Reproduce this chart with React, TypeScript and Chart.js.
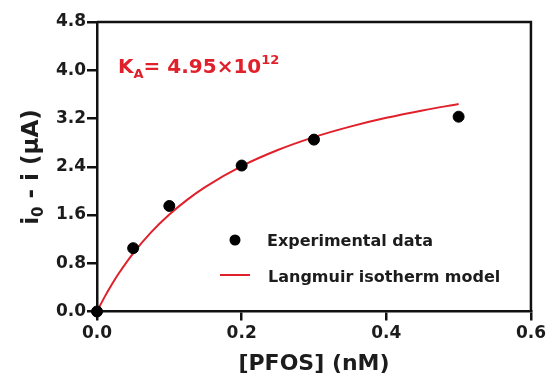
import React, { useEffect, useRef } from "react";
import { Chart, registerables } from "chart.js";

Chart.register(...registerables);

// Experimental data
const expX = [0, 0.05, 0.1, 0.2, 0.3, 0.5];
const expY = [0, 1.05, 1.75, 2.42, 2.85, 3.23];

// Langmuir isotherm model curve
const fitX = [0, 0.01, 0.02, 0.03, 0.05, 0.075, 0.1, 0.125, 0.15, 0.2, 0.25, 0.3, 0.35, 0.4, 0.45, 0.5];
const fitY = [0, 0.23, 0.44, 0.63, 0.965, 1.316, 1.608, 1.855, 2.066, 2.41, 2.677, 2.891, 3.065, 3.211, 3.334, 3.44];

const xTicks = [0, 0.2, 0.4, 0.6];
const yTicks = [0, 0.8, 1.6, 2.4, 3.2, 4.0, 4.8];

const FONT = "'DejaVu Sans', sans-serif";
const TXT = "#1c1c1c";
const RED = "#e0202a";

type Seg = { t: string; size: number; dy: number };

function segWidth(ctx: CanvasRenderingContext2D, segs: Seg[]) {
  let w = 0;
  for (const s of segs) {
    ctx.font = `bold ${s.size}px ${FONT}`;
    w += ctx.measureText(s.t).width;
  }
  return w;
}
function drawSegs(ctx: CanvasRenderingContext2D, segs: Seg[], x: number, y: number) {
  let cx = x;
  for (const s of segs) {
    ctx.font = `bold ${s.size}px ${FONT}`;
    ctx.fillText(s.t, cx, y + s.dy);
    cx += ctx.measureText(s.t).width;
  }
}

const decor = {
  id: "decor",
  afterDraw(chart: any) {
    const ctx: CanvasRenderingContext2D = chart.ctx;
    const a = chart.chartArea;
    ctx.save();
    // frame top & right
    ctx.strokeStyle = "#111";
    ctx.lineWidth = 2.5;
    ctx.beginPath();
    ctx.moveTo(a.left, a.top);
    ctx.lineTo(a.right, a.top);
    ctx.lineTo(a.right, a.bottom);
    ctx.stroke();

    ctx.textBaseline = "alphabetic";
    ctx.textAlign = "left";
    // x title
    ctx.fillStyle = TXT;
    ctx.font = `bold 22px ${FONT}`;
    ctx.textAlign = "center";
    ctx.fillText("[PFOS] (nM)", 314, 370);

    // y title rotated
    ctx.textAlign = "left";
    const ySegs: Seg[] = [
      { t: "i", size: 23, dy: 0 },
      { t: "0", size: 15, dy: 5 },
      { t: " - i (μA)", size: 23, dy: 0 },
    ];
    const w = segWidth(ctx, ySegs);
    ctx.save();
    ctx.translate(38, 167);
    ctx.rotate(-Math.PI / 2);
    drawSegs(ctx, ySegs, -w / 2, 0);
    ctx.restore();

    // annotation
    ctx.fillStyle = RED;
    drawSegs(
      ctx,
      [
        { t: "K", size: 20, dy: 0 },
        { t: "A", size: 13, dy: 5 },
        { t: "= 4.95×10", size: 20, dy: 0 },
        { t: "12", size: 13, dy: -9 },
      ],
      118,
      73
    );

    // legend
    ctx.fillStyle = "#000";
    ctx.beginPath();
    ctx.arc(235, 240, 5.5, 0, Math.PI * 2);
    ctx.fill();
    ctx.strokeStyle = RED;
    ctx.lineWidth = 2;
    ctx.beginPath();
    ctx.moveTo(220, 275);
    ctx.lineTo(250, 275);
    ctx.stroke();
    ctx.fillStyle = TXT;
    ctx.font = `bold 16px ${FONT}`;
    ctx.fillText("Experimental data", 267, 246);
    ctx.fillText("Langmuir isotherm model", 268, 282);
    ctx.restore();
  },
};

export default function App() {
  const ref = useRef<HTMLCanvasElement | null>(null);
  useEffect(() => {
    document.body.style.margin = "0";
    const chart = new Chart(ref.current!, {
      type: "scatter",
      data: {
        datasets: [
          {
            label: "Langmuir isotherm model",
            data: fitX.map((x, i) => ({ x, y: fitY[i] })),
            showLine: true,
            borderColor: RED,
            borderWidth: 2,
            pointRadius: 0,
            cubicInterpolationMode: "monotone",
            clip: false,
            order: 2,
          } as any,
          {
            label: "Experimental data",
            data: expX.map((x, i) => ({ x, y: expY[i] })),
            backgroundColor: "#000",
            borderColor: "#000",
            pointRadius: 5.5,
            showLine: false,
            clip: false,
            order: 1,
          } as any,
        ],
      },
      options: {
        animation: false,
        responsive: true,
        maintainAspectRatio: false,
        layout: { padding: { top: 22, right: 18, left: 0, bottom: 0 } },
        plugins: { legend: { display: false }, tooltip: { enabled: false } },
        scales: {
          x: {
            type: "linear",
            min: 0,
            max: 0.6,
            afterBuildTicks: (s: any) => {
              s.ticks = xTicks.map((v) => ({ value: v }));
            },
            afterFit: (s: any) => {
              s.height = 66.5;
            },
            ticks: {
              callback: (v: any) => Number(v).toFixed(1),
              font: { family: FONT, size: 17, weight: "bold" },
              color: TXT,
              padding: 3,
              maxRotation: 0,
            },
            grid: { drawOnChartArea: false, drawTicks: true, tickLength: 9, color: "#111", lineWidth: 2.5 },
            border: { display: true, color: "#111", width: 2.5 },
          },
          y: {
            type: "linear",
            min: 0,
            max: 4.8,
            afterBuildTicks: (s: any) => {
              s.ticks = yTicks.map((v) => ({ value: v }));
            },
            afterFit: (s: any) => {
              s.width = 97;
            },
            ticks: {
              callback: (v: any) => Number(v).toFixed(1),
              font: { family: FONT, size: 17, weight: "bold" },
              color: TXT,
              padding: 1,
            },
            grid: { drawOnChartArea: false, drawTicks: true, tickLength: 10, color: "#111", lineWidth: 2.5 },
            border: { display: true, color: "#111", width: 2.5 },
          },
        },
      },
      plugins: [decor],
    });
    return () => chart.destroy();
  }, []);
  return (
    <div style={{ position: "absolute", left: 0, top: 0, width: 549, height: 378 }}>
      <canvas ref={ref} />
    </div>
  );
}
